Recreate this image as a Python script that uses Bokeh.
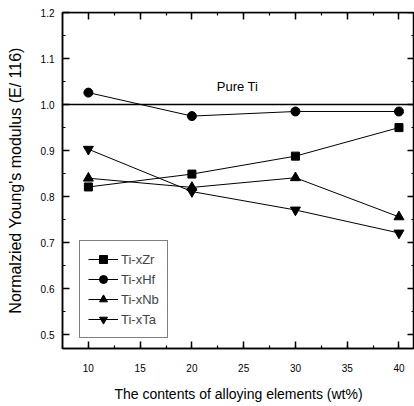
from bokeh.plotting import figure
from bokeh.models import (Range1d, LinearAxis, SingleIntervalTicker, NumeralTickFormatter,
                          Legend, LegendItem, Span, Label)
from bokeh.embed import file_html
from bokeh.resources import INLINE

x_vals = [10, 20, 30, 40]
zr = [0.821, 0.849, 0.888, 0.950]
hf = [1.026, 0.975, 0.985, 0.985]
nb = [0.840, 0.820, 0.841, 0.756]
ta = [0.903, 0.811, 0.771, 0.721]
series_names = ["Ti-xZr", "Ti-xHf", "Ti-xNb", "Ti-xTa"]
pure_ti = 1.0
pure_label = "Pure Ti"

FONT = "Liberation Sans"
X_END = 41.5
Y_END = 1.2001

p = figure(width=414, height=406, output_backend="svg", toolbar_location=None,
           x_range=Range1d(7.5, X_END), y_range=Range1d(0.47, Y_END), min_border=0,
           min_border_left=62, min_border_right=0, min_border_top=12, min_border_bottom=58,
           background_fill_color="white", border_fill_color="white")
p.grid.visible = False
p.outline_line_color = "black"
p.outline_line_width = 1.5

p.xaxis.ticker = SingleIntervalTicker(interval=5, num_minor_ticks=2)
p.yaxis.ticker = SingleIntervalTicker(interval=0.1, num_minor_ticks=2)
p.yaxis.formatter = NumeralTickFormatter(format="0.0")

def style_axis(ax, inward=True, show_labels=True):
    ax.axis_line_color = "black"
    ax.axis_line_width = 1.5
    if inward:
        ax.major_tick_in, ax.major_tick_out = 7, 0
        ax.minor_tick_in, ax.minor_tick_out = 3, 0
    else:
        ax.major_tick_in, ax.major_tick_out = 0, 7
        ax.minor_tick_in, ax.minor_tick_out = 0, 3
    ax.major_tick_line_width = 1.5
    ax.minor_tick_line_width = 1.2
    ax.major_tick_line_color = "black"
    ax.minor_tick_line_color = "black"
    ax.major_label_text_font = FONT
    ax.major_label_text_color = "black"
    ax.axis_label_text_font = FONT
    ax.axis_label_text_font_style = "normal"
    ax.axis_label_text_color = "black"
    if not show_labels:
        ax.major_label_text_font_size = "1px"
        ax.major_label_text_color = None
        ax.major_label_standoff = 0

style_axis(p.xaxis[0])
style_axis(p.yaxis[0])
p.xaxis.axis_label = "The contents of alloying elements (wt%)"
p.xaxis.axis_label_text_font_size = "14px"
p.xaxis.major_label_text_font_size = "10px"
p.xaxis.major_label_standoff = 15
p.xaxis.axis_label_standoff = 11
p.yaxis.axis_label = "Normalzied Young's modulus (E/ 116)"
p.yaxis.axis_label_text_font_size = "16px"
p.yaxis.major_label_text_font_size = "10px"
p.yaxis.major_label_standoff = 8
p.yaxis.axis_label_standoff = 14

# mirror ticks on the top and right edges (drawn at fixed positions, no extra panels)
top_ax = LinearAxis(ticker=SingleIntervalTicker(interval=5, num_minor_ticks=2), fixed_location=Y_END)
style_axis(top_ax, inward=False, show_labels=False)
p.add_layout(top_ax, "below")
right_ax = LinearAxis(ticker=SingleIntervalTicker(interval=0.1, num_minor_ticks=2), fixed_location=X_END)
style_axis(right_ax, inward=False, show_labels=False)
p.add_layout(right_ax, "left")

p.add_layout(Span(location=pure_ti, dimension="width", line_color="black", line_width=1.5))
p.add_layout(Label(x=24.4, y=1.04, text=pure_label, text_font=FONT, text_font_size="13px",
                   text_align="center", text_baseline="middle", text_color="black"))

markers = ["square", "circle", "triangle", "inverted_triangle"]
sizes = [8, 9, 10, 10]
items = []
for name, ys, m, s in zip(series_names, [zr, hf, nb, ta], markers, sizes):
    l = p.line(x_vals, ys, line_color="black", line_width=1)
    sc = p.scatter(x_vals, ys, marker=m, size=s, fill_color="black", line_color="black")
    items.append(LegendItem(label=name, renderers=[l, sc]))

legend = Legend(items=items, location=(17, 10), label_text_font=FONT, label_text_font_size="13px",
                glyph_width=30, glyph_height=20, label_height=20, spacing=0, padding=8,
                label_standoff=3, border_line_color="black", border_line_width=1.2,
                background_fill_alpha=1, margin=0)
p.add_layout(legend, "center")

open("out.html", "w").write(file_html(p, INLINE))
